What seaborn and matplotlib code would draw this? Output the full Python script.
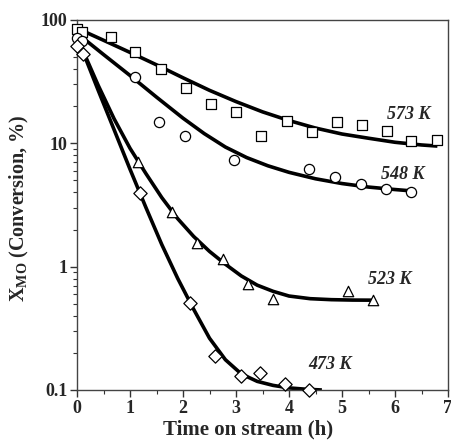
import matplotlib
matplotlib.use("Agg")
import matplotlib.pyplot as plt
import matplotlib.ticker as mticker
import seaborn as sns
import pandas as pd

sns.set_theme(style="white")
plt.rcParams['font.family'] = ['Liberation Serif', 'DejaVu Serif']
plt.rcParams['mathtext.fontset'] = 'custom'
plt.rcParams['mathtext.rm'] = 'Liberation Serif:bold'
plt.rcParams['mathtext.bf'] = 'Liberation Serif:bold'
plt.rcParams['mathtext.it'] = 'Liberation Serif:bold:italic'

# ---- data ----
labels = ["573 K", "548 K", "523 K", "473 K"]
markers = ["s", "o", "^", "D"]

pts_573_x = [0.0, 0.1, 0.65, 1.1, 1.58, 2.05, 2.52, 3.0, 3.48, 3.96, 4.43, 4.9, 5.37, 5.84, 6.31, 6.79]
pts_573_y = [84, 80, 73, 55, 40, 28, 20.8, 17.9, 11.5, 15.3, 12.3, 15.0, 14.1, 12.5, 10.5, 10.6]
pts_548_x = [0.0, 0.1, 1.09, 1.55, 2.04, 2.97, 4.38, 4.87, 5.35, 5.83, 6.3]
pts_548_y = [72, 68, 34.4, 14.9, 11.5, 7.3, 6.25, 5.3, 4.67, 4.28, 4.0]
pts_523_x = [1.16, 1.79, 2.27, 2.75, 3.23, 3.69, 5.12, 5.59]
pts_523_y = [7.0, 2.8, 1.56, 1.16, 0.73, 0.55, 0.64, 0.54]
pts_473_x = [0.0, 0.12, 1.18, 2.13, 2.6, 3.09, 3.45, 3.93, 4.38]
pts_473_y = [62, 52.8, 3.95, 0.51, 0.19, 0.131, 0.137, 0.111, 0.1]

fit_573_x = [0.1, 0.5, 1.0, 1.5, 2.0, 2.5, 3.0, 3.5, 4.0, 4.5, 5.0, 5.5, 6.0, 6.5, 6.8]
fit_573_y = [82.0, 68.5, 54.6, 43.3, 34.0, 26.9, 21.8, 18.0, 15.3, 13.3, 11.9, 11.0, 10.2, 9.7, 9.5]
fit_548_x = [0.12, 0.5, 1.0, 1.5, 2.0, 2.4, 2.8, 3.2, 3.6, 4.0, 4.5, 5.0, 5.5, 6.0, 6.3]
fit_548_y = [71.0, 52.5, 35.5, 23.7, 16.0, 12.0, 9.33, 7.67, 6.58, 5.82, 5.16, 4.72, 4.42, 4.22, 4.12]
fit_523_x = [0.1, 0.4, 0.7, 1.0, 1.3, 1.6, 1.9, 2.2, 2.5, 2.8, 3.1, 3.4, 3.7, 4.0, 4.4, 4.8, 5.2, 5.59]
fit_523_y = [58.0, 29.5, 15.8, 9.12, 5.69, 3.63, 2.45, 1.76, 1.33, 1.047, 0.841, 0.708, 0.631, 0.578,
             0.550, 0.540, 0.536, 0.535]
fit_473_x = [0.1, 0.4, 0.7, 1.0, 1.3, 1.6, 1.9, 2.2, 2.5, 2.8, 3.1, 3.4, 3.7, 4.0, 4.3, 4.62]
fit_473_y = [57.0, 26.9, 12.9, 6.17, 3.02, 1.51, 0.803, 0.452, 0.263, 0.176, 0.135, 0.1175, 0.109,
             0.104, 0.1016, 0.1]

label_x = [6.26, 6.15, 5.9, 4.77]
label_y = [17.0, 5.56, 0.785, 0.161]

x_ticks = [0, 1, 2, 3, 4, 5, 6, 7]
y_ticks = [0.1, 1, 10, 100]
y_tick_labels = ["0.1", "1", "10", "100"]

pts = pd.concat([
    pd.DataFrame({"t": pts_573_x, "X": pts_573_y, "T": labels[0]}),
    pd.DataFrame({"t": pts_548_x, "X": pts_548_y, "T": labels[1]}),
    pd.DataFrame({"t": pts_523_x, "X": pts_523_y, "T": labels[2]}),
    pd.DataFrame({"t": pts_473_x, "X": pts_473_y, "T": labels[3]}),
], ignore_index=True)
fits = pd.concat([
    pd.DataFrame({"t": fit_573_x, "X": fit_573_y, "T": labels[0]}),
    pd.DataFrame({"t": fit_548_x, "X": fit_548_y, "T": labels[1]}),
    pd.DataFrame({"t": fit_523_x, "X": fit_523_y, "T": labels[2]}),
    pd.DataFrame({"t": fit_473_x, "X": fit_473_y, "T": labels[3]}),
], ignore_index=True)

fig = plt.figure(figsize=(4.51, 4.46), dpi=100)
ax = fig.add_axes([77/451, 1-390/446, (448-77)/451, (390-20)/446])
ax.set_yscale("log")

pal = {l: "black" for l in labels}
sns.lineplot(data=fits, x="t", y="X", hue="T", palette=pal, lw=2.6, ax=ax,
             legend=False, estimator=None, sort=False, zorder=2)
for ln in ax.lines:
    ln.set_solid_capstyle("butt")
    ln.set_solid_joinstyle("round")
sizes = {"s": 44, "o": 54, "^": 56, "D": 46}
for lab, m in zip(labels, markers):
    sub = pts[pts["T"] == lab]
    sns.scatterplot(data=sub, x="t", y="X", marker=m, s=sizes[m], color="white",
                    edgecolor="black", linewidth=0.9, ax=ax, legend=False, zorder=3,
                    clip_on=False)

for lab, lx, ly in zip(labels, label_x, label_y):
    ax.text(lx, ly, lab, fontsize=13, fontweight="bold", fontstyle="italic",
            ha="center", va="center")

ax.set_xlim(0, 7)
ax.set_ylim(0.1, 100)
ax.set_xticks(x_ticks)
ax.xaxis.set_minor_locator(mticker.MultipleLocator(0.5))
ax.set_yticks(y_ticks)
ax.set_yticklabels(y_tick_labels)
ax.yaxis.set_minor_locator(mticker.LogLocator(base=10, subs=range(2, 10)))
ax.yaxis.set_minor_formatter(mticker.NullFormatter())
ax.tick_params(which="major", direction="out", length=5, width=1, color="#333",
               labelsize=13, pad=2, top=False, right=False, bottom=True, left=True)
ax.tick_params(which="minor", direction="out", length=3, width=0.8, color="#333",
               top=False, right=False, bottom=True, left=True)
for lbl in ax.get_xticklabels() + ax.get_yticklabels():
    lbl.set_fontweight("bold")
for sp in ax.spines.values():
    sp.set_color("#444")
    sp.set_linewidth(1.0)

ax.set_xlabel("Time on stream (h)", fontsize=15, fontweight="bold")
ax.xaxis.set_label_coords(0.461, -0.08)
ax.set_ylabel(r"X$_{\mathbf{MO}}$ (Conversion, %)", fontsize=14.5, fontweight="bold")
ax.yaxis.set_label_coords(-0.125, 0.492)

fig.savefig("out.png", dpi=100)
